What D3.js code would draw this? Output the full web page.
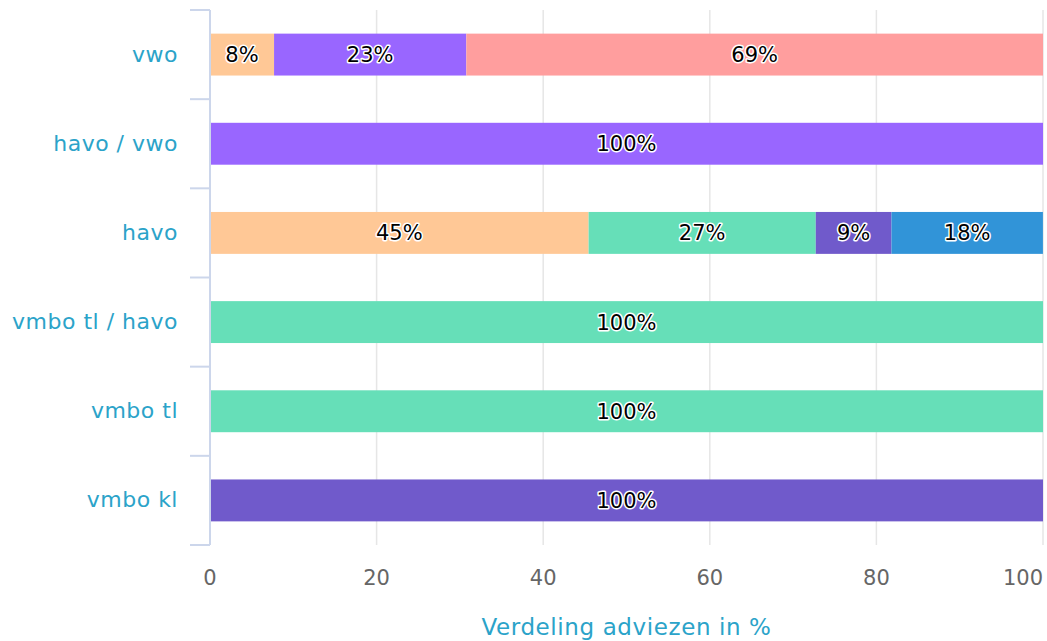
<!DOCTYPE html>
<html>
<head>
<meta charset="utf-8">
<script src="https://cdn.jsdelivr.net/npm/d3@7"></script>
<style>
    body { margin: 0; background: #fff; }
    svg { display: block; font-family: "DejaVu Sans", sans-serif; }
</style>
</head>
<body>
<div id="chart"></div>
<script>
// Categories (top to bottom)
const categories = ['vwo', 'havo / vwo', 'havo', 'vmbo tl / havo', 'vmbo tl', 'vmbo kl'];

// Series in stacking order, with their colours
const seriesNames = ['s1', 's2', 's3', 's4', 's5', 's6'];
const seriesColors = ['#ffc896', '#66dfb8', '#9966ff', '#705acb', '#3194d8', '#ff9e9e'];

// Share per category for each series (percent)
const s1 = [7.69, 0, 45.45, 0, 0, 0];
const s2 = [0, 0, 27.27, 100, 100, 0];
const s3 = [23.08, 100, 0, 0, 0, 0];
const s4 = [0, 0, 9.09, 0, 0, 100];
const s5 = [0, 0, 18.18, 0, 0, 0];
const s6 = [69.23, 0, 0, 0, 0, 0];
const seriesValues = [s1, s2, s3, s4, s5, s6];

const xTicks = [0, 20, 40, 60, 80, 100];
const axisTitle = 'Verdeling adviezen in %';

const W = 1047, H = 641;
const margin = { top: 10, right: 4, bottom: 96, left: 210 };

const svg = d3.select('#chart').append('svg')
    .attr('width', W)
    .attr('height', H);

const x = d3.scaleLinear()
    .domain([0, 100])
    .range([margin.left, W - margin.right]);

const y = d3.scaleBand()
    .domain(categories)
    .range([margin.top, H - margin.bottom]);

const barH = y.bandwidth() * 0.47;

// Build rows for d3.stack
const rows = categories.map((c, i) => {
    const r = { cat: c };
    seriesNames.forEach((s, j) => { r[s] = seriesValues[j][i]; });
    return r;
});
const stacked = d3.stack().keys(seriesNames)(rows);

// Grid lines
svg.append('g')
    .selectAll('line')
    .data(xTicks)
    .enter().append('line')
    .attr('x1', d => x(d))
    .attr('x2', d => x(d))
    .attr('y1', margin.top)
    .attr('y2', H - margin.bottom)
    .attr('stroke', '#e6e6e6')
    .attr('stroke-width', 1.5);

// Bars
const layer = svg.append('g')
    .selectAll('g')
    .data(stacked)
    .enter().append('g')
    .attr('fill', (d, i) => seriesColors[i]);

layer.selectAll('rect')
    .data(d => d.filter(p => p[1] - p[0] > 0))
    .enter().append('rect')
    .attr('x', d => x(d[0]))
    .attr('width', d => x(d[1]) - x(d[0]))
    .attr('y', d => y(d.data.cat) + (y.bandwidth() - barH) / 2)
    .attr('height', barH);

// Data labels
layer.selectAll('text')
    .data(d => d.filter(p => p[1] - p[0] > 0))
    .enter().append('text')
    .attr('x', d => (x(d[0]) + x(d[1])) / 2)
    .attr('y', d => y(d.data.cat) + y.bandwidth() / 2)
    .attr('dy', '0.36em')
    .attr('text-anchor', 'middle')
    .attr('fill', '#000')
    .attr('stroke', '#fff')
    .attr('stroke-width', 3)
    .attr('stroke-linejoin', 'round')
    .style('paint-order', 'stroke')
    .style('font-size', '21px')
    .text(d => Math.round(d[1] - d[0]) + '%');

// Y axis line and ticks
svg.append('line')
    .attr('x1', margin.left).attr('x2', margin.left)
    .attr('y1', margin.top).attr('y2', H - margin.bottom)
    .attr('stroke', '#ccd6eb')
    .attr('stroke-width', 2);

const boundaries = categories.map(c => y(c)).concat([H - margin.bottom]);
svg.append('g')
    .selectAll('line')
    .data(boundaries)
    .enter().append('line')
    .attr('x1', margin.left - 20)
    .attr('x2', margin.left)
    .attr('y1', d => d)
    .attr('y2', d => d)
    .attr('stroke', '#ccd6eb')
    .attr('stroke-width', 2);

// Category labels
svg.append('g')
    .selectAll('text')
    .data(categories)
    .enter().append('text')
    .attr('x', margin.left - 32)
    .attr('y', d => y(d) + y.bandwidth() / 2)
    .attr('dy', '0.32em')
    .attr('text-anchor', 'end')
    .attr('fill', '#2ba3c9')
    .style('font-size', '22px')
    .style('letter-spacing', '0.5px')
    .text(d => d);

// X tick labels
svg.append('g')
    .selectAll('text')
    .data(xTicks)
    .enter().append('text')
    .attr('x', d => x(d))
    .attr('y', 585)
    .attr('text-anchor', d => d === 100 ? 'end' : 'middle')
    .attr('fill', '#666')
    .style('font-size', '21px')
    .text(d => d);

// Axis title
svg.append('text')
    .attr('x', (margin.left + W - margin.right) / 2)
    .attr('y', 635)
    .attr('text-anchor', 'middle')
    .attr('fill', '#2ba3c9')
    .style('font-size', '23px')
    .style('letter-spacing', '0.6px')
    .text(axisTitle);
</script>
</body>
</html>
